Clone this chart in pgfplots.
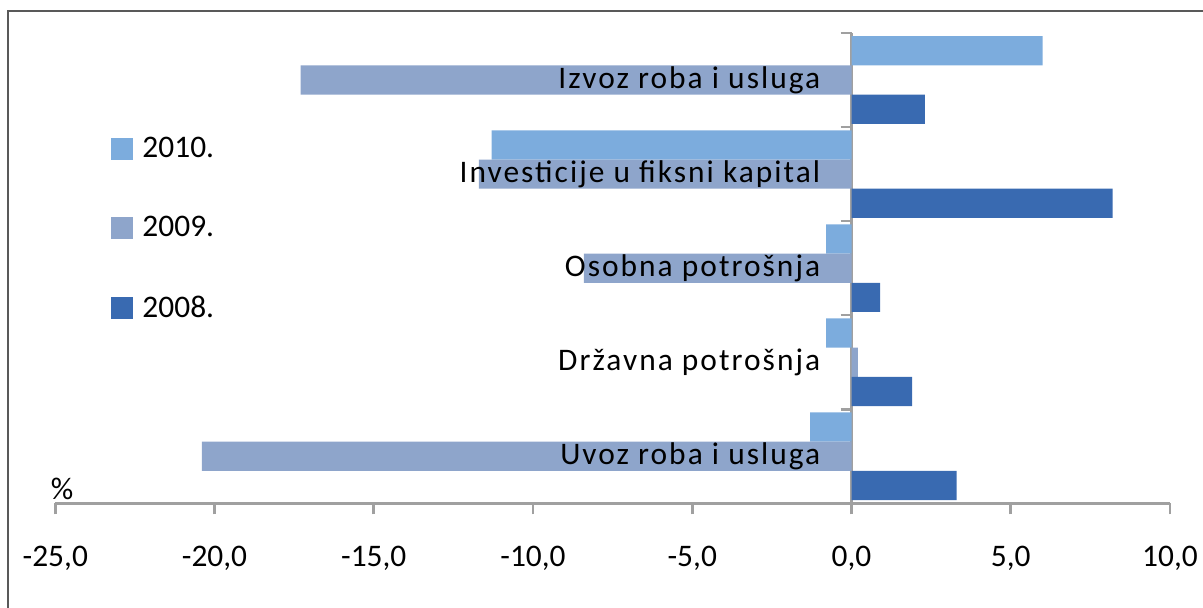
\documentclass[border=0pt]{standalone}
\usepackage{fontspec}
\setmainfont{Carlito}
\newfontfamily\catfont[LetterSpace=6.5]{Carlito}
\usepackage{pgfplots}
\pgfplotsset{compat=1.18}
\definecolor{c10}{RGB}{124,172,221}
\definecolor{c09}{RGB}{142,165,203}
\definecolor{c08}{RGB}{57,106,177}
\definecolor{axgray}{RGB}{160,160,160}
\definecolor{framegray}{RGB}{89,89,89}
\newcommand{\fs}{\fontsize{15.7}{18}\selectfont}
\begin{document}
\begin{tikzpicture}
\path[use as bounding box] (0pt,0pt) rectangle (601.5pt,303.5pt);
\draw[line width=1pt, framegray] (4pt,-5pt) -- (4pt,298pt) -- (610pt,298pt);
\begin{axis}[
  at={(27.65pt,51.85pt)}, anchor=south west,
  scale only axis, width=557.35pt, height=235.15pt,
  xmin=-25, xmax=10, ymin=-0.5, ymax=4.5,
  axis x line=bottom, axis y line=center,
  axis line style={-, draw=axgray, line width=1.3pt},
  xtick={-25,-20,...,10},
  ytick={-0.5,0.5,...,4.5}, yticklabels={},
  tick align=outside, major tick length=5.5pt,
  tick style={draw=axgray, line width=1.3pt},
  xticklabel style={font=\fs, yshift=-12.5pt},
  /pgf/number format/.cd, fixed, fixed zerofill, precision=1, use comma, assume math mode=true,
  /pgfplots/.cd,
  xbar, bar width=14.6pt,
  clip=false,
  legend style={at={(axis description cs:0.0497,0.78)}, anchor=north west,
    draw=none, fill=none, font=\fs, row sep=28pt, column sep=4.7pt,
    inner sep=0pt, nodes={inner sep=0pt}},
  legend cell align=left,
  legend image code/.code={\fill[#1] (0pt,-5.5pt) rectangle (11pt,5.5pt);},
]
\addplot[fill=c10, draw=none, bar shift=14.6pt] coordinates {(6.0,4) (-11.3,3) (-0.8,2) (-0.8,1) (-1.3,0)};
\addplot[fill=c09, draw=none, bar shift=0pt] coordinates {(-17.3,4) (-11.7,3) (-8.4,2) (0.2,1) (-20.4,0)};
\addplot[fill=c08, draw=none, bar shift=-14.6pt] coordinates {(2.3,4) (8.2,3) (0.9,2) (1.9,1) (3.3,0)};
\legend{2010.,2009.,2008.}
\node[anchor=east, inner sep=0pt, font=\fs\catfont] at (axis cs:-0.97,4) {Izvoz roba i usluga};
\node[anchor=east, inner sep=0pt, font=\fs\catfont] at (axis cs:-0.97,3) {Investicije u fiksni kapital};
\node[anchor=east, inner sep=0pt, font=\fs\catfont] at (axis cs:-0.97,2) {Osobna potrošnja};
\node[anchor=east, inner sep=0pt, font=\fs\catfont] at (axis cs:-0.97,1) {Državna potrošnja};
\node[anchor=east, inner sep=0pt, font=\fs\catfont] at (axis cs:-0.97,0) {Uvoz roba i usluga};
\node[inner sep=0pt, font=\fs] at (axis description cs:0.006,0.0315) {\%};
\end{axis}
\end{tikzpicture}
\end{document}
